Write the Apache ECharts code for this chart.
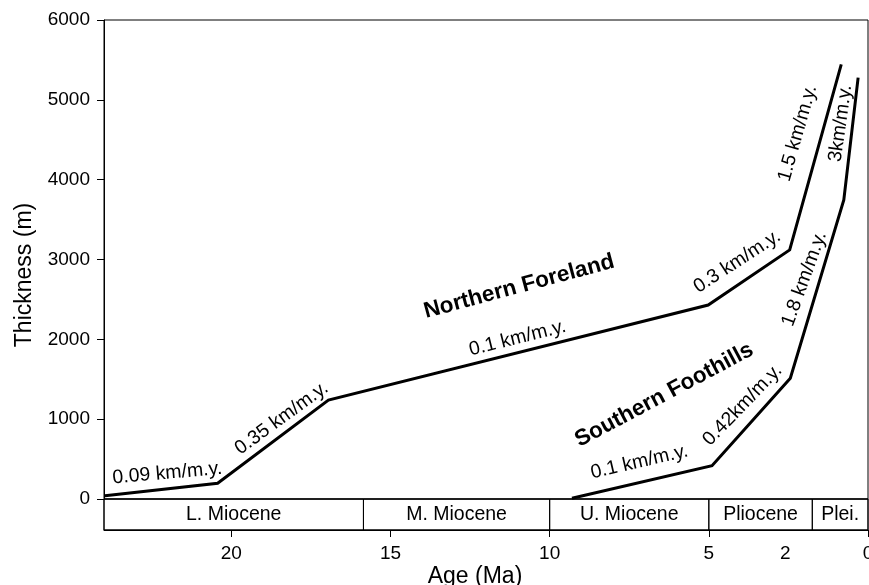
<!DOCTYPE html>
<html><head><meta charset="utf-8">
<script src="https://cdn.jsdelivr.net/npm/echarts@6/dist/echarts.min.js"></script>
<style>html,body{margin:0;padding:0;background:#fff}#c{width:869px;height:585px}</style>
</head><body><div id="c"></div>
<script>
// ---- data ----
const northAge = [23.97, 20.43, 16.95, 5.02, 2.46, 0.84];
const northThk = [40, 197, 1240, 2430, 3120, 5445];
const southAge = [9.3, 4.9, 2.44, 0.76, 0.31];
const southThk = [10, 417, 1512, 3745, 5278];

const epochNames = ['L. Miocene', 'M. Miocene', 'U. Miocene', 'Pliocene', 'Plei.'];
const epochStart = [24, 15.85, 10, 5, 1.75];
const epochEnd = [15.85, 10, 5, 1.75, 0];

const xTickValues = [20, 15, 10, 5, 0];
const xLabelValues = [20, 15, 10, 5, 2.6, 0];
const xLabelTexts = ['20', '15', '10', '5', '2', '0'];

const annoText = ['0.09 km/m.y.', '0.35 km/m.y.', '0.1 km/m.y.', 'Northern Foreland', '0.3 km/m.y.',
  '1.5 km/m.y.', '3km/m.y.', '1.8 km/m.y.', '0.42km/m.y.', 'Southern Foothills', '0.1 km/m.y.'];
const annoAge = [22.01, 18.42, 11.01, 10.96, 4.11, 2.21, 0.86, 2.0, 3.94, 6.40, 7.18];
const annoThk = [322, 1011, 2013, 2659, 2973, 4581, 4706, 2756, 1177, 1303, 463];
const annoAngle = [5, 36, 14, 15, 33, 74, 82, 70, 46, 28, 13];
const annoBold = [false, false, false, true, false, false, false, false, false, true, false];

// ---- chart ----
const FONT = '"Liberation Sans", Arial, Helvetica, sans-serif';
const chart = echarts.init(document.getElementById('c'), null, {renderer: 'canvas'});

const zip = (a, b) => a.map((v, i) => [v, b[i]]);

const option = {
  animation: false,
  backgroundColor: '#fff',
  textStyle: {fontFamily: FONT, color: '#000'},
  grid: [
    {left: 104, top: 20, width: 764, height: 479, show: true, borderColor: '#000', borderWidth: 1,
      backgroundColor: 'transparent', containLabel: false, outerBoundsMode: 'none'},
    {left: 104, top: 499, width: 764, height: 31, show: true, borderColor: '#000', borderWidth: 1,
      backgroundColor: 'transparent', containLabel: false, outerBoundsMode: 'none'}
  ],
  xAxis: [
    {gridIndex: 0, type: 'value', min: 0, max: 24, inverse: true, show: false},
    {gridIndex: 1, type: 'value', min: 0, max: 24, inverse: true, position: 'bottom',
      axisLine: {show: true, onZero: false, lineStyle: {color: '#000', width: 1}},
      axisTick: {show: true, length: 7, lineStyle: {color: '#000', width: 1}, customValues: xTickValues},
      axisLabel: {show: true, margin: 14, fontSize: 19, color: '#000', fontFamily: FONT,
        customValues: xLabelValues, hideOverlap: false,
        formatter: v => { const i = xLabelValues.findIndex(x => Math.abs(x - v) < 1e-6); return i >= 0 ? xLabelTexts[i] : ''; }},
      splitLine: {show: false},
      name: 'Age (Ma)', nameLocation: 'middle', nameGap: 35,
      nameTextStyle: {fontSize: 23, color: '#000', fontFamily: FONT, padding: [0, 22, 0, 0]}}
  ],
  yAxis: [
    {gridIndex: 0, type: 'value', min: 0, max: 6000, interval: 1000, position: 'left',
      axisLine: {show: true, onZero: false, lineStyle: {color: '#000', width: 1}},
      axisTick: {show: true, inside: false, length: 7, lineStyle: {color: '#000', width: 1}},
      axisLabel: {show: true, margin: 14, fontSize: 19, color: '#000', fontFamily: FONT, formatter: v => String(v)},
      splitLine: {show: false},
      name: 'Thickness (m)', nameLocation: 'middle', nameGap: 68, nameRotate: 90,
      nameTextStyle: {fontSize: 23, color: '#000', fontFamily: FONT, padding: [0, 31, 0, 0]}},
    {gridIndex: 1, type: 'value', min: 0, max: 1, show: false}
  ],
  series: [
    {type: 'line', xAxisIndex: 0, yAxisIndex: 0, data: zip(northAge, northThk), symbol: 'none',
      lineStyle: {color: '#000', width: 3, join: 'miter', cap: 'butt'}, silent: true},
    {type: 'line', xAxisIndex: 0, yAxisIndex: 0, data: zip(southAge, southThk), symbol: 'none',
      lineStyle: {color: '#000', width: 3, join: 'miter', cap: 'butt'}, silent: true},
    {type: 'custom', xAxisIndex: 1, yAxisIndex: 1, silent: true,
      data: epochNames.map((n, i) => [epochStart[i], epochEnd[i], i]),
      renderItem: function (params, api) {
        const p0 = api.coord([api.value(0), 0]);
        const p1 = api.coord([api.value(1), 1]);
        const idx = api.value(2);
        const x = Math.min(p0[0], p1[0]), w = Math.abs(p1[0] - p0[0]);
        const y = Math.min(p0[1], p1[1]), h = Math.abs(p1[1] - p0[1]);
        return {type: 'group', children: [
          {type: 'rect', shape: {x: x, y: y, width: w, height: h},
            style: {fill: 'none', stroke: '#000', lineWidth: 1}},
          {type: 'text', x: x + w / 2, y: y + h / 2,
            style: {text: epochNames[idx], fill: '#000', font: '19.5px ' + FONT, align: 'center', verticalAlign: 'middle'}}
        ]};
      }},
    {type: 'scatter', xAxisIndex: 0, yAxisIndex: 0, symbolSize: 0, silent: true,
      itemStyle: {opacity: 1},
      data: annoText.map((t, i) => ({
        value: [annoAge[i], annoThk[i]], name: t,
        label: {show: true, position: 'inside', formatter: t, rotate: annoAngle[i],
          fontSize: annoBold[i] ? 22.5 : 19.5, fontWeight: annoBold[i] ? 'bold' : 'normal',
          color: '#000', opacity: 1, textBorderWidth: 0, fontFamily: FONT, align: 'center', verticalAlign: 'middle'}
      }))}
  ]
};
chart.setOption(option);
</script>
</body></html>
